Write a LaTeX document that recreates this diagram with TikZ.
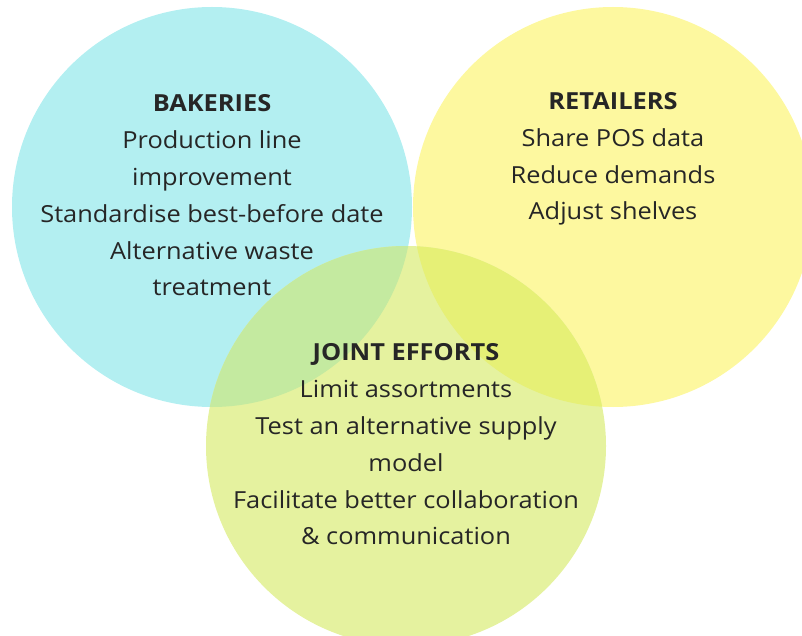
\documentclass[tikz,border=0pt]{standalone}
\usepackage{fontspec}
\setmainfont[FakeStretch=1.08]{Open Sans}
\definecolor{bakblue}{HTML}{B3EFF1}
\definecolor{retyellow}{HTML}{FDF89F}
\definecolor{jointgreen}{HTML}{E5F29F}
\definecolor{bakjoint}{HTML}{C4EAA0}
\definecolor{retjoint}{HTML}{E6F076}
\definecolor{inktext}{HTML}{262626}
\begin{document}
\begin{tikzpicture}[x=1pt,y=-1pt,
  label text/.style={align=center,text=inktext,inner sep=0pt,
    font=\fontsize{23.5}{36.8}\selectfont}]
\useasboundingbox (0,0) rectangle (802,636);
\fill[bakblue] (212,207) circle (200);
\fill[retyellow] (613,207) circle (200);
\fill[jointgreen] (406,446) circle (200);
% overlaps of the joint circle
\begin{scope}
\clip (406,446) circle (200);
\fill[bakjoint] (212,207) circle (200);
\fill[retjoint] (613,207) circle (200);
\end{scope}
\node[label text] (bakeries) at (212,195.5) {\textbf{BAKERIES}\\Production line\\improvement\\Standardise best-before date\\Alternative waste\\treatment};
\node[label text] (retailers) at (613,159) {\textbf{RETAILERS}\\Share POS data\\Reduce demands\\Adjust shelves};
\node[label text] (joint) at (406,444.5) {\textbf{JOINT EFFORTS}\\Limit assortments\\Test an alternative supply\\model\\Facilitate better collaboration\\\& communication};
\end{tikzpicture}
\end{document}
